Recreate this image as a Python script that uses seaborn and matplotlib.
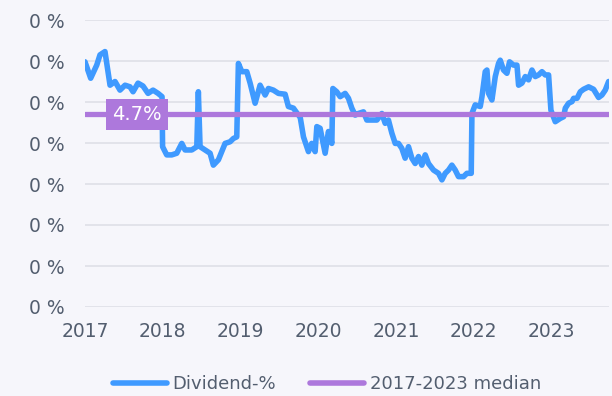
import matplotlib
matplotlib.use("Agg")
import matplotlib.pyplot as plt
from matplotlib.ticker import FuncFormatter
import pandas as pd
import seaborn as sns

# Dividend yield history (years as decimal, yield in percent)
years = [
    2017.000, 2017.073, 2017.151, 2017.193, 2017.257, 2017.322, 2017.386, 2017.450,
    2017.515, 2017.579, 2017.618, 2017.682, 2017.746, 2017.811, 2017.875, 2017.940,
    2017.991, 2017.998, 2018.051, 2018.116, 2018.180, 2018.245, 2018.287, 2018.373,
    2018.438, 2018.458, 2018.480, 2018.544, 2018.609, 2018.651, 2018.716, 2018.759,
    2018.802, 2018.866, 2018.909, 2018.952, 2018.973, 2019.017, 2019.081, 2019.124,
    2019.188, 2019.252, 2019.317, 2019.359, 2019.423, 2019.488, 2019.574, 2019.616,
    2019.681, 2019.745, 2019.767, 2019.810, 2019.874, 2019.916, 2019.960, 2019.982,
    2020.024, 2020.089, 2020.131, 2020.175, 2020.188, 2020.238, 2020.282, 2020.346,
    2020.389, 2020.432, 2020.475, 2020.517, 2020.582, 2020.625, 2020.690, 2020.754,
    2020.818, 2020.861, 2020.903, 2020.947, 2020.990, 2021.032, 2021.075, 2021.118,
    2021.161, 2021.204, 2021.247, 2021.290, 2021.333, 2021.376, 2021.418, 2021.483,
    2021.547, 2021.591, 2021.633, 2021.676, 2021.719, 2021.762, 2021.804, 2021.869,
    2021.912, 2021.968, 2021.977, 2022.019, 2022.084, 2022.106, 2022.148, 2022.170,
    2022.191, 2022.234, 2022.277, 2022.319, 2022.341, 2022.383, 2022.427, 2022.461,
    2022.512, 2022.556, 2022.577, 2022.620, 2022.663, 2022.705, 2022.749, 2022.792,
    2022.834, 2022.878, 2022.920, 2022.963, 2022.993, 2023.049, 2023.113, 2023.156,
    2023.178, 2023.220, 2023.264, 2023.285, 2023.329, 2023.371, 2023.413, 2023.478,
    2023.542, 2023.606, 2023.649, 2023.692, 2023.735,
]
dividend_pct = [
    5.98, 5.58, 5.90, 6.15, 6.23, 5.41, 5.50, 5.29,
    5.41, 5.37, 5.25, 5.46, 5.39, 5.21, 5.29, 5.21,
    5.13, 3.91, 3.71, 3.71, 3.75, 3.99, 3.83, 3.83,
    3.91, 5.25, 3.91, 3.83, 3.75, 3.46, 3.59, 3.79,
    3.99, 4.03, 4.11, 4.15, 5.94, 5.74, 5.74, 5.46,
    4.97, 5.41, 5.17, 5.33, 5.29, 5.21, 5.19, 4.89,
    4.85, 4.68, 4.64, 4.15, 3.79, 3.99, 3.79, 4.40,
    4.36, 3.75, 4.28, 3.99, 5.33, 5.25, 5.13, 5.21,
    5.09, 4.85, 4.68, 4.72, 4.76, 4.56, 4.56, 4.56,
    4.72, 4.48, 4.56, 4.24, 3.99, 3.99, 3.87, 3.63,
    3.91, 3.63, 3.50, 3.67, 3.46, 3.71, 3.50, 3.34,
    3.26, 3.10, 3.26, 3.34, 3.46, 3.34, 3.18, 3.18,
    3.26, 3.26, 4.72, 4.93, 4.89, 5.13, 5.74, 5.78,
    5.21, 5.05, 5.62, 5.94, 6.02, 5.78, 5.70, 5.98,
    5.90, 5.90, 5.41, 5.46, 5.62, 5.54, 5.78, 5.62,
    5.66, 5.74, 5.66, 5.66, 4.80, 4.52, 4.60, 4.64,
    4.85, 4.97, 5.01, 5.09, 5.09, 5.25, 5.31, 5.37,
    5.31, 5.11, 5.17, 5.29, 5.50,
]
median_pct = 4.7
median_label = "4.7%"
series_name = "Dividend-%"
median_name = "2017-2023 median"
year_ticks = [2017, 2018, 2019, 2020, 2021, 2022, 2023]
y_ticks = [0, 1, 2, 3, 4, 5, 6, 7]

BLUE = "#3f9aff"
PURPLE = "#ad78dc"
TEXT = "#535e6f"
GRID = "#e2e3ea"
BG = "#f6f6fb"

sns.set_theme(style="whitegrid")
plt.rcParams["font.family"] = ["DejaVu Sans"]

df = pd.DataFrame({"year": years, "dividend": dividend_pct})

fig = plt.figure(figsize=(6.12, 3.96), dpi=100, facecolor=BG)
ax = fig.add_axes([85 / 612, 89 / 396, 524 / 612, 287 / 396])
ax.set_facecolor(BG)

sns.lineplot(data=df, x="year", y="dividend", ax=ax, color=BLUE,
             linewidth=4.0, label=series_name, zorder=3,
             solid_capstyle="round", solid_joinstyle="round")
ax.axhline(median_pct, color=PURPLE, linewidth=3.8, label=median_name, zorder=4)

ax.text(2017.668, median_pct, median_label, ha="center", va="center",
        color="white", fontsize=14, zorder=6,
        bbox=dict(boxstyle="square,pad=0.3", fc=PURPLE, ec="none"))

ax.set_xlim(2017, 2023.74)
ax.set_ylim(0, 7)
ax.set_xticks(year_ticks)
ax.set_xticklabels([str(y) for y in year_ticks])
ax.set_yticks(y_ticks)
# axis values are formatted as whole fractions
ax.yaxis.set_major_formatter(FuncFormatter(lambda v, _: f"{v / 100:.0f} %"))

ax.grid(axis="y", color=GRID, linewidth=1.4)
ax.grid(axis="x", visible=False)
for s in ax.spines.values():
    s.set_visible(False)
ax.tick_params(axis="both", length=0, colors=TEXT, labelsize=13.5)
ax.tick_params(axis="y", pad=15)
ax.tick_params(axis="x", pad=11)
ax.set_xlabel("")
ax.set_ylabel("")

ax.get_legend().remove()
handles, labels = ax.get_legend_handles_labels()
leg = fig.legend(handles, labels, loc="center", bbox_to_anchor=(0.534, 0.03),
                 ncol=2, frameon=False, fontsize=13, handlelength=3.0,
                 handletextpad=0.3, columnspacing=1.9, labelcolor=TEXT)
for line in leg.get_lines():
    line.set_linewidth(4)
    line.set_solid_capstyle("round")

fig.savefig("out.png", dpi=100, facecolor=BG)
